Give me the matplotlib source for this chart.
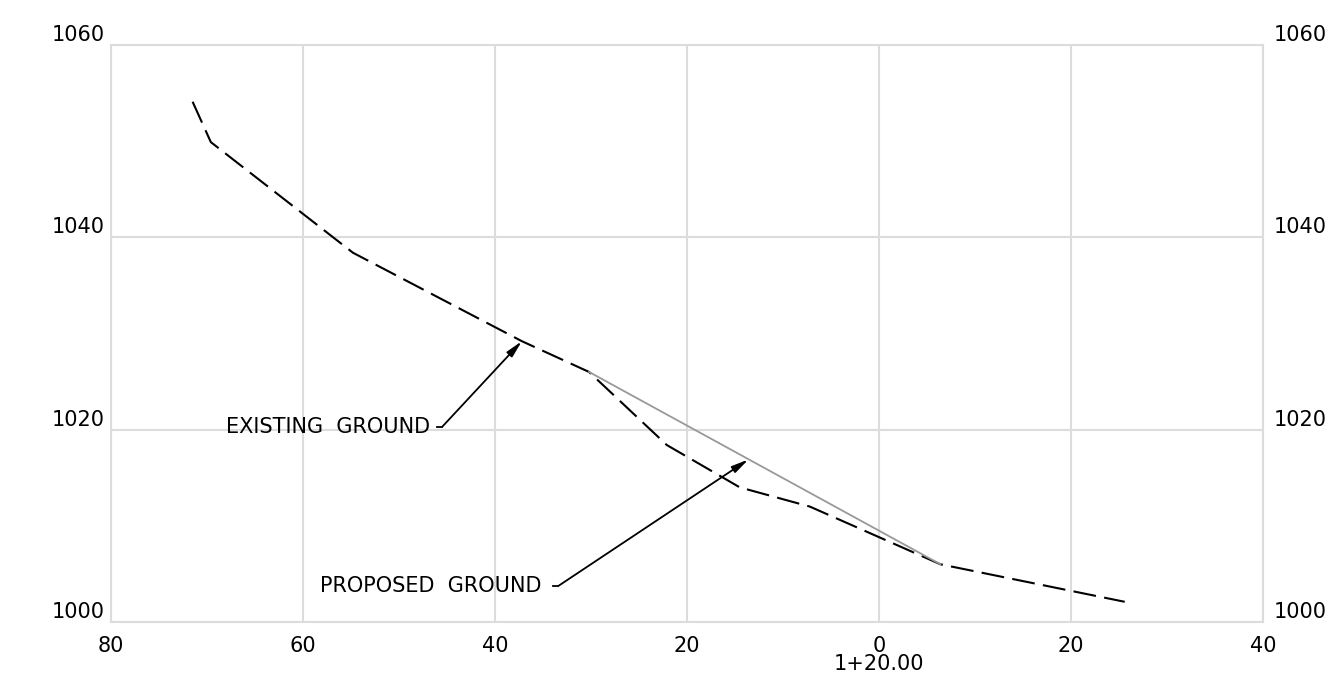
import matplotlib
matplotlib.use("Agg")
import matplotlib.pyplot as plt

# station offsets (ft from 1+20.00) and elevations
existing_x = [-71.5, -69.6, -54.8, -37.2, -30.2, -22.1, -14.5, -7.2, 6.4, 25.6]
existing_y = [1054.1, 1049.9, 1038.4, 1029.2, 1026.0, 1018.4, 1014.0, 1012.0, 1006.0, 1002.1]
proposed_x = [-30.2, 6.4]
proposed_y = [1026.0, 1006.0]

x_ticks = [-80, -60, -40, -20, 0, 20, 40]
x_labels = ["80", "60", "40", "20", "0", "20", "40"]
y_ticks = [1000, 1020, 1040, 1060]
y_labels = ["1000", "1020", "1040", "1060"]
station = "1+20.00"

# callouts: text, text pos, leader start, arrow tip
callouts = [
    ("EXISTING  GROUND", (-68.0, 1020.3), (-46.0, -45.5), (-37.2, 1029.2)),
    ("PROPOSED  GROUND", (-58.2, 1003.75), (-34.0, -33.4), (-13.6, 1016.9)),
]

GRID = "#dcdcdc"
FS = 15

fig = plt.figure(figsize=(13.28, 6.84), dpi=100)
ax = fig.add_axes([111/1328, 1-622/684, 1152/1328, 577/684])

ax.set_xlim(-80, 40)
ax.set_ylim(1000, 1060)

ax.set_xticks(x_ticks, x_labels)
ax.set_yticks(y_ticks, y_labels)
ax.grid(True, color=GRID, lw=1.5)
ax.set_axisbelow(True)
for s in ax.spines.values():
    s.set_color(GRID)
    s.set_linewidth(1.5)

ax.tick_params(axis="x", length=0, pad=10, labelsize=FS)
ax.tick_params(axis="y", length=0, pad=4.5, labelsize=FS)
for lbl in ax.get_yticklabels():
    lbl.set_va("bottom")

# elevations repeated on the right side
ax2 = ax.twinx()
ax2.set_ylim(1000, 1060)
ax2.set_yticks(y_ticks, y_labels)
ax2.tick_params(axis="y", length=0, pad=8, labelsize=FS)
for lbl in ax2.get_yticklabels():
    lbl.set_va("bottom")
for s in ax2.spines.values():
    s.set_visible(False)

ax.annotate(station, xy=(0, 0), xycoords=("data", "axes fraction"),
            xytext=(0, -30), textcoords="offset points",
            ha="center", va="center", fontsize=FS)

ax.plot(existing_x, existing_y, color="black", lw=1.5, dashes=(11, 4))
ax.plot(proposed_x, proposed_y, color="#999999", lw=1.3)

for text, tpos, (x0, x1), tip in callouts:
    ax.text(tpos[0], tpos[1], text, ha="left", va="center", fontsize=FS)
    ax.plot([x0, x1], [tpos[1], tpos[1]], color="black", lw=1.3)
    ax.annotate("", xy=tip, xytext=(x1, tpos[1]),
                arrowprops=dict(arrowstyle="-|>,head_length=1.0,head_width=0.22",
                                color="black", lw=1.3,
                                shrinkA=0, shrinkB=0))

fig.savefig("out.png", dpi=100)
